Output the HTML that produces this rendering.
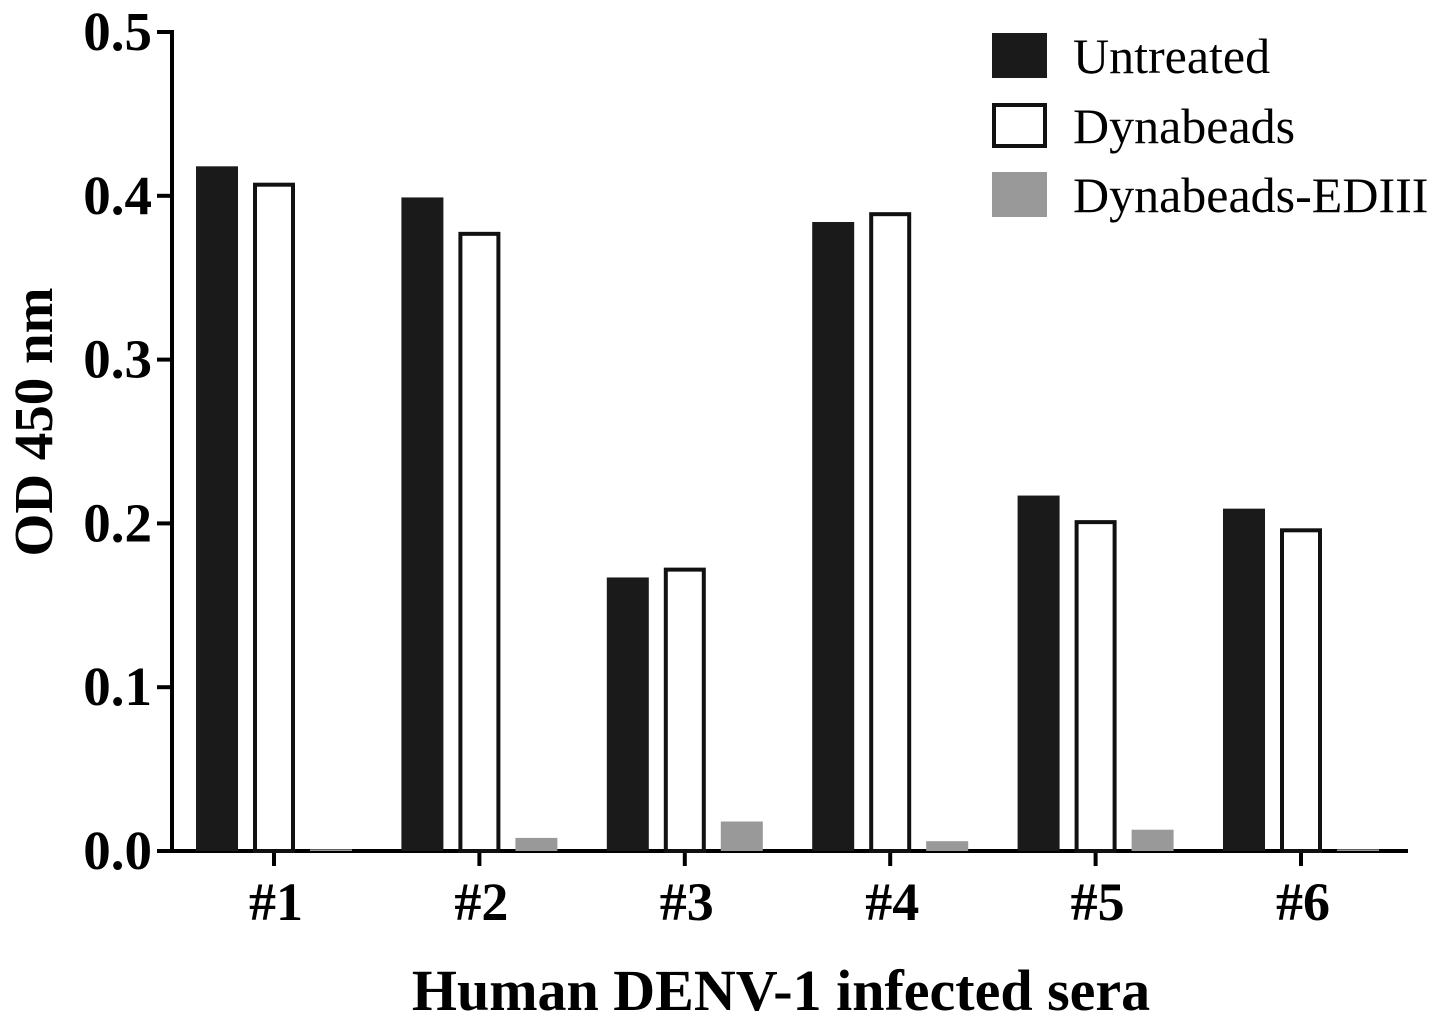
<!DOCTYPE html>
<html><head><meta charset="utf-8"><style>
html,body{margin:0;padding:0;background:#fff;}
svg{display:block;font-family:"Liberation Serif",serif;}
</style></head><body>
<svg id="chart" width="1441" height="1022"></svg>
<script>
const categories = ["#1","#2","#3","#4","#5","#6"];
const untreated = [0.418,0.399,0.167,0.384,0.217,0.209];
const dynabeads = [0.408,0.378,0.173,0.390,0.202,0.197];
const dynabeadsEDIII = [0.001,0.008,0.018,0.006,0.013,0.001];
const yTicks = ["0.0","0.1","0.2","0.3","0.4","0.5"];
const seriesNames = ["Untreated","Dynabeads","Dynabeads-EDIII"];

const NS="http://www.w3.org/2000/svg";
const svg=document.getElementById('chart');
function mk(tag,attrs,parent){const e=document.createElementNS(NS,tag);for(const k in attrs)e.setAttribute(k,attrs[k]);(parent||svg).appendChild(e);return e;}
const y0=851, yTop=32, x0=172, x1=1408;
const yScale=v=>y0-(v/0.5)*(y0-yTop);
const xCenter=i=>274+i*205.4;

let a=mk('line',{x1:x0,y1:yTop-2,x2:x0,y2:y0+2,stroke:'#000','stroke-width':4});


a=mk('line',{x1:x0-2,y1:y0,x2:x1,y2:y0,stroke:'#000','stroke-width':4});



yTicks.forEach(t=>{
  const y=yScale(parseFloat(t));
  const l=mk('line',{x1:x0-15,y1:y,x2:x0,y2:y,stroke:'#000','stroke-width':4});
  
  
  const tx=mk('text',{x:x0-20,y:y+18,'text-anchor':'end','font-size':55,'font-weight':'bold'});
  tx.textContent=t;
  
  
});

const series=[untreated,dynabeads,dynabeadsEDIII];
const offs=[-57,0,57], w=42;
categories.forEach((c,i)=>{
  const cx=xCenter(i);
  const l=mk('line',{x1:cx,y1:y0,x2:cx,y2:y0+15,stroke:'#000','stroke-width':4});
  
  
  const tx=mk('text',{x:cx+2,y:920,'text-anchor':'middle','font-size':54,'font-weight':'bold'});
  tx.textContent=c;
  
  
  series.forEach((s,k)=>{
    const top=yScale(s[i]);
    let r;
    if(k===1){
      r=mk('rect',{x:cx+offs[k]-w/2+2,y:top+2,width:w-4,height:y0-top-2,fill:'#fff',stroke:'#111','stroke-width':4});
    } else {
      r=mk('rect',{x:cx+offs[k]-w/2,y:top,width:w,height:y0-top,fill:k===0?'#1a1a1a':'#999'});
    }
    
    
  });
});

const lg=[{y:33,fill:'#1a1a1a'},{y:103,fill:'#fff'},{y:172,fill:'#999'}];
lg.forEach((g,k)=>{
  let r;
  if(k===1) r=mk('rect',{x:994,y:g.y+2,width:51,height:41,fill:'#fff',stroke:'#111','stroke-width':4});
  else r=mk('rect',{x:992,y:g.y,width:55,height:45,fill:g.fill});
  
  
  const t=mk('text',{x:1073,y:g.y+40,'font-size':50});
  t.textContent=seriesNames[k];
  
  
});

let t=mk('text',{x:0,y:0,'font-size':55,'font-weight':'bold','text-anchor':'middle',transform:'translate(52,422) rotate(-90)'});
t.textContent='OD 450 nm';


t=mk('text',{x:781,y:1010,'font-size':58,'font-weight':'bold','text-anchor':'middle'});
t.textContent='Human DENV-1 infected sera';


</script>
</body></html>
